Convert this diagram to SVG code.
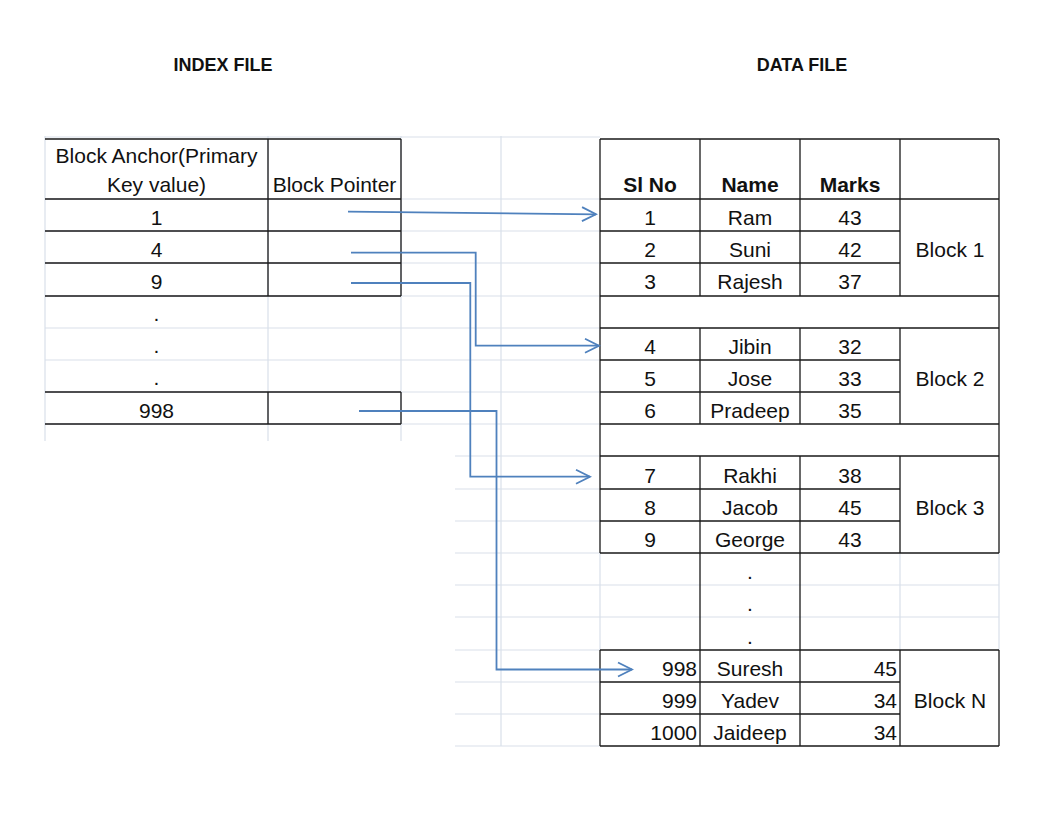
<svg xmlns="http://www.w3.org/2000/svg" width="1055" height="813" viewBox="0 0 1055 813">
<style>
.grid{stroke:#d9e0ea;stroke-width:1.2;fill:none}
.bd{stroke:#1a1a1a;stroke-width:1.3;fill:none}
.t{font-family:"Liberation Sans",Arial,sans-serif;font-size:21px;fill:#111;text-anchor:middle}
.r{text-anchor:end}
.b{font-weight:bold}
.title{font-family:"Liberation Sans",Arial,sans-serif;font-size:18px;font-weight:bold;fill:#111;text-anchor:middle}
.arr{stroke:#4f81bd;stroke-width:1.8;fill:none;marker-end:url(#ah)}
</style>
<defs>
<marker id="ah" markerUnits="userSpaceOnUse" viewBox="-16 -9 18 18" markerWidth="18" markerHeight="18" refX="0" refY="0" orient="auto">
<path d="M-14,-7 L0,0 L-14,7" fill="none" stroke="#4f81bd" stroke-width="1.8"/>
</marker>
</defs>
<rect width="1055" height="813" fill="#fff"/>

<g id="gridlines">
<path class="grid" d="M45,136V441 M268,136V441 M401,136V441 M501,136V746 M45,137H600 M45,199H600 M45,231H600 M45,263H600 M45,296H600 M45,328H600 M45,360H600 M45,392H600 M45,424H600 M455,456H600 M455,489H600 M455,521H600 M455,553H600 M455,585H999 M455,617H999 M455,650H600 M455,682H600 M455,714H600 M455,746H600 M600,553V650 M900,553V650 M999,553V650"/>
</g>

<text class="title" x="223" y="71">INDEX FILE</text>
<text class="title" x="802" y="71">DATA FILE</text>

<g id="index-file">
<path class="bd" d="M45,139H401 M45,199H401 M45,231H401 M45,263H401 M45,296H401 M268,139V296 M401,139V296 M45,392H401 M45,424H401 M268,392V424 M401,392V424"/>
<text class="t" x="156.5" y="163">Block Anchor(Primary</text>
<text class="t" x="156.5" y="192">Key value)</text>
<text class="t" x="334.5" y="192">Block Pointer</text>
<text class="t" x="156.5" y="225">1</text>
<text class="t" x="156.5" y="257">4</text>
<text class="t" x="156.5" y="289">9</text>
<text class="t" x="156.5" y="321">.</text>
<text class="t" x="156.5" y="353">.</text>
<text class="t" x="156.5" y="385">.</text>
<text class="t" x="156.5" y="418">998</text>
</g>

<g id="data-file">
<path class="bd" d="M600,139H999 M600,199H999 M700,139V199 M800,139V199 M900,139V199 M600,139V553 M999,139V553 M600,650V746 M999,650V746"/>
<text class="t b" x="650" y="192">Sl No</text>
<text class="t b" x="750" y="192">Name</text>
<text class="t b" x="850" y="192">Marks</text>
</g>

<g id="block-1">
<path class="bd" d="M700,199V296 M800,199V296 M900,199V296 M600,231H900 M600,263H900 M600,296H999"/>
<text class="t" x="650" y="225">1</text><text class="t" x="750" y="225">Ram</text><text class="t" x="850" y="225">43</text>
<text class="t" x="650" y="257">2</text><text class="t" x="750" y="257">Suni</text><text class="t" x="850" y="257">42</text>
<text class="t" x="650" y="289">3</text><text class="t" x="750" y="289">Rajesh</text><text class="t" x="850" y="289">37</text>
<text class="t" x="950" y="257">Block 1</text>
</g>

<g id="block-2">
<path class="bd" d="M600,328H999 M700,328V424 M800,328V424 M900,328V424 M600,360H900 M600,392H900 M600,424H999"/>
<text class="t" x="650" y="354">4</text><text class="t" x="750" y="354">Jibin</text><text class="t" x="850" y="354">32</text>
<text class="t" x="650" y="386">5</text><text class="t" x="750" y="386">Jose</text><text class="t" x="850" y="386">33</text>
<text class="t" x="650" y="418">6</text><text class="t" x="750" y="418">Pradeep</text><text class="t" x="850" y="418">35</text>
<text class="t" x="950" y="386">Block 2</text>
</g>

<g id="block-3">
<path class="bd" d="M600,456H999 M700,456V553 M800,456V553 M900,456V553 M600,489H900 M600,521H900 M600,553H999"/>
<text class="t" x="650" y="483">7</text><text class="t" x="750" y="483">Rakhi</text><text class="t" x="850" y="483">38</text>
<text class="t" x="650" y="515">8</text><text class="t" x="750" y="515">Jacob</text><text class="t" x="850" y="515">45</text>
<text class="t" x="650" y="547">9</text><text class="t" x="750" y="547">George</text><text class="t" x="850" y="547">43</text>
<text class="t" x="950" y="515">Block 3</text>
</g>

<g id="ellipsis">
<path class="bd" d="M700,553V650 M800,553V650"/>
<text class="t" x="750" y="579">.</text>
<text class="t" x="750" y="611">.</text>
<text class="t" x="750" y="644">.</text>
</g>

<g id="block-n">
<path class="bd" d="M600,650H999 M700,650V746 M800,650V746 M900,650V746 M600,682H900 M600,714H900 M600,746H999"/>
<text class="t r" x="697" y="676">998</text><text class="t" x="750" y="676">Suresh</text><text class="t r" x="897" y="676">45</text>
<text class="t r" x="697" y="708">999</text><text class="t" x="750" y="708">Yadev</text><text class="t r" x="897" y="708">34</text>
<text class="t r" x="697" y="740">1000</text><text class="t" x="750" y="740">Jaideep</text><text class="t r" x="897" y="740">34</text>
<text class="t" x="950" y="708">Block N</text>
</g>

<g id="connectors">
<path class="arr" d="M348,211.7 L596,214.3"/>
<path class="arr" d="M351,252.7 H475.7 V345.7 H599"/>
<path class="arr" d="M351,283 H470.3 V476.7 H590"/>
<path class="arr" d="M359,411 H496.5 V669.5 H632"/>
</g>
</svg>
